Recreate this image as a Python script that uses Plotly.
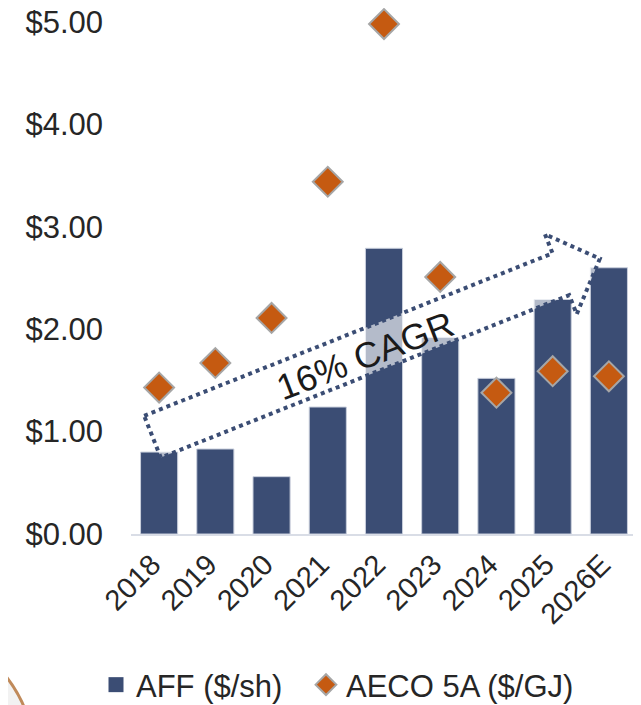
import math
import plotly.graph_objects as go

# Data
years = ["2018", "2019", "2020", "2021", "2022", "2023", "2024", "2025", "2026E"]
aff = [0.80, 0.83, 0.56, 1.24, 2.79, 1.92, 1.52, 2.29, 2.60]
aeco = [1.43, 1.67, 2.11, 3.44, 4.98, 2.51, 1.38, 1.59, 1.54]
y_ticks = [0, 1, 2, 3, 4, 5]
y_labels = ["$0.00", "$1.00", "$2.00", "$3.00", "$4.00", "$5.00"]
cagr_text = "16% CAGR"

NAVY = "#3B4D74"
ORANGE = "#C55A11"
FONT = "Liberation Sans, Arial, sans-serif"

W, H = 641, 705
OFF = 8  # page body margin
# plot box in screen pixels
BOX_L, BOX_R, BOX_T, BOX_B = 131, 637, 22, 534
ML, MT = BOX_L - OFF, BOX_T - OFF
MR = W - ML - (BOX_R - BOX_L)
MB = H - MT - (BOX_B - BOX_T)


def px_x(px):
    return (px - BOX_L) / (BOX_R - BOX_L)


def px_y(py):
    return (BOX_B - py) / (BOX_B - BOX_T)


def arrow_path(ox, oy, angle, length, half_w, head_half, head_len):
    c, s = math.cos(math.radians(angle)), math.sin(math.radians(angle))
    local = [(0, half_w), (length, half_w), (length, head_half),
             (length + head_len, 0), (length, -head_half),
             (length, -half_w), (0, -half_w)]
    pts = []
    for u, v in local:
        px = ox + u * c - v * s
        py = oy - u * s - v * c
        pts.append(f"{px_x(px):.4f},{px_y(py):.4f}")
    return "M" + " L".join(pts) + " Z"


fig = go.Figure()
fig.add_trace(go.Bar(
    x=years, y=aff, name="AFF ($/sh)", showlegend=False,
    marker=dict(color=NAVY, line=dict(color="#C9CFDC", width=1)),
))
# legend entry for the bars (bigger square symbol than the default bar icon)
fig.add_trace(go.Scatter(
    x=[None], y=[None], name="AFF ($/sh)", mode="markers", legend="legend",
    marker=dict(symbol="square", size=15, color=NAVY),
))
fig.add_trace(go.Scatter(
    x=years, y=aeco, name="AECO 5A ($/GJ)", mode="markers", legend="legend2",
    marker=dict(symbol="diamond", size=23, color=ORANGE,
                line=dict(color="#A6A6A6", width=2)),
    cliponaxis=False,
))

# arrow geometry (pixels)
ang = 21.7
ox, oy = 152.5, 436.7
shapes = [
    dict(type="circle", xref="paper", yref="paper", layer="below",
         x0=px_x(-235), x1=px_x(35), y0=px_y(895), y1=px_y(625),
         fillcolor="#F2F2F2", line=dict(color="#C08A5A", width=3)),
    dict(type="path", xref="paper", yref="paper", layer="above",
         path=arrow_path(ox, oy, ang, 439.5, 22.5, 43, 42),
         fillcolor="rgba(255,255,255,0.62)",
         line=dict(color=NAVY, width=4, dash="dot")),
]
cu = 228
cx = ox + cu * math.cos(math.radians(ang)) + 3 * math.sin(math.radians(ang))
cy = oy - cu * math.sin(math.radians(ang)) + 3 * math.cos(math.radians(ang))

legend_style = dict(orientation="h", xanchor="left", y=px_y(685),
                    yanchor="middle", font=dict(size=31, color="#262626"),
                    bgcolor="rgba(0,0,0,0)")

fig.update_layout(
    width=W, height=H,
    margin=dict(l=ML, r=MR, t=MT, b=MB, autoexpand=False),
    paper_bgcolor="white", plot_bgcolor="rgba(0,0,0,0)",
    font=dict(family=FONT, size=30, color="#262626"),
    bargap=0.34,
    showlegend=True,
    legend=dict(x=px_x(96), **legend_style),
    legend2=dict(x=px_x(306), **legend_style),
    shapes=shapes,
    annotations=[dict(text=cagr_text, xref="paper", yref="paper",
                      x=px_x(cx), y=px_y(cy), showarrow=False,
                      textangle=-21, font=dict(size=36, color="#1A1A1A"))],
)
fig.update_xaxes(tickangle=-45, showgrid=False, showline=True,
                 range=[-0.5, len(years) - 0.5],
                 linecolor="#D9DDE6", linewidth=2, ticks="",
                 automargin=False, ticklabelshift=-7,
                 ticklabeloverflow="allow",
                 tickfont=dict(size=29, color="#262626"))
fig.update_yaxes(range=[0, 5], tickvals=y_ticks, ticktext=y_labels,
                 showgrid=False, zeroline=False, showline=False,
                 automargin=False, ticklabelstandoff=27,
                 ticklabeloverflow="allow",
                 tickfont=dict(size=31, color="#262626"))

fig.write_html("out.html")
